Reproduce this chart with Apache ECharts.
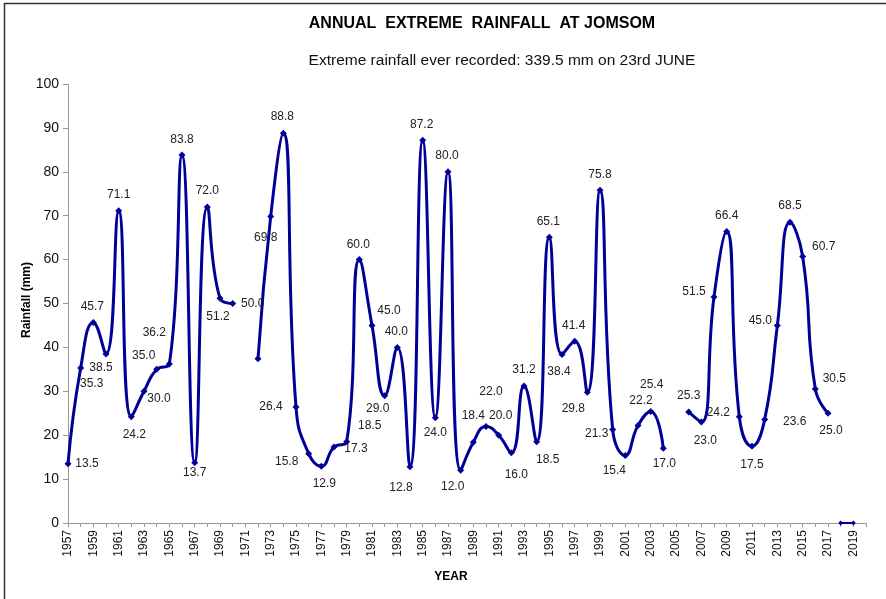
<!DOCTYPE html>
<html>
<head>
<meta charset="utf-8">
<script src="https://cdn.jsdelivr.net/npm/echarts@6/dist/echarts.min.js"></script>
<style>
  html, body { margin: 0; padding: 0; background: #fff; }
  #chart { width: 886px; height: 599px; }
</style>
</head>
<body>
<div id="chart"></div>
<script>
// Year categories along the x axis (one slot per year, 1957-2020)
const years = [
  '1957','1958','1959','1960','1961','1962','1963','1964','1965','1966',
  '1967','1968','1969','1970','1971','1972','1973','1974','1975','1976',
  '1977','1978','1979','1980','1981','1982','1983','1984','1985','1986',
  '1987','1988','1989','1990','1991','1992','1993','1994','1995','1996',
  '1997','1998','1999','2000','2001','2002','2003','2004','2005','2006',
  '2007','2008','2009','2010','2011','2012','2013','2014','2015','2016',
  '2017','2018','2019','2020'
];

// Annual extreme rainfall (mm); null = no record for that year
const rainfall = [
  13.5, 35.3, 45.7, 38.5, 71.1, 24.2, 30.0, 35.0, 36.2, 83.8,
  13.7, 72.0, 51.2, 50.0, null, 37.4, 69.8, 88.8, 26.4, 15.8,
  12.9, 17.3, 18.5, 60.0, 45.0, 29.0, 40.0, 12.8, 87.2, 24.0,
  80.0, 12.0, 18.4, 22.0, 20.0, 16.0, 31.2, 18.5, 65.1, 38.4,
  41.4, 29.8, 75.8, 21.3, 15.4, 22.2, 25.4, 17.0, null, 25.3,
  23.0, 51.5, 66.4, 24.2, 17.5, 23.6, 45.0, 68.5, 60.7, 30.5,
  25.0, null, null, null
];

// Years at the end of the record with zero entries
const zeroYears = ['2018', '2019'];
const zeroValues = [0, 0];

// Years whose value is plotted without a value label
const unlabelledYears = ['1972'];

// Label placement: offset of each value label from its point, in px
const labelOffset = {
  '1957': [19, 0],   '1958': [11, 16],   '1959': [-1, -16],  '1960': [-5, 14],
  '1961': [0, -16],  '1962': [3, 18],    '1963': [15, 7],    '1964': [-13, -14],
  '1965': [-15, -31],'1966': [0, -15],   '1967': [0, 10],    '1968': [0, -16],
  '1969': [-2, 18],  '1970': [20, 0],    '1973': [-5, 21],   '1974': [-1, -16],
  '1975': [-25, 0],  '1976': [-22, 8],   '1977': [3, 17],    '1978': [22, 2],
  '1979': [23, -16], '1980': [-1, -15],  '1981': [17, -15],  '1982': [-7, 13],
  '1983': [-1, -16], '1984': [-9, 21],   '1985': [-1, -16],  '1986': [0, 15],
  '1987': [-1, -16], '1988': [-8, 16],   '1989': [0, -27],   '1990': [5, -35],
  '1991': [2, -20],  '1992': [5, 22],    '1993': [0, -16],   '1994': [11, 18],
  '1995': [-1, -16], '1996': [-3, 17],   '1997': [-1, -16],  '1998': [-14, 17],
  '1999': [0, -16],  '2000': [-16, 4],   '2001': [-11, 15],  '2002': [3, -25],
  '2003': [1, -27],  '2004': [1, 15],    '2006': [0, -16],   '2007': [4, 19],
  '2008': [-20, -5], '2009': [0, -16],   '2010': [-21, -4],  '2011': [0, 19],
  '2012': [30, 2],   '2013': [-17, -5],  '2014': [0, -17],   '2015': [21, -10],
  '2016': [19, -10], '2017': [3, 17]
};

const LINE_BLUE = '#000099';
const TEXT_FONT = 'Liberation Sans, Arial, sans-serif';

const mainData = rainfall.map((v, i) => {
  const y = years[i];
  if (v === null) return null;
  const off = labelOffset[y] || [0, -16];
  return {
    value: v,
    label: { show: unlabelledYears.indexOf(y) < 0, offset: off }
  };
});

const zeroData = years.map(y => {
  const k = zeroYears.indexOf(y);
  return k < 0 ? null : zeroValues[k];
});

const chart = echarts.init(document.getElementById('chart'), null, { renderer: 'canvas' });

chart.setOption({
  backgroundColor: '#ffffff',
  animation: false,
  title: [
    {
      text: 'ANNUAL  EXTREME  RAINFALL  AT JOMSOM',
      left: 477, top: 11, textAlign: 'center',
      textStyle: { fontFamily: TEXT_FONT, fontSize: 16, fontWeight: 'bold', color: '#000' }
    },
    {
      text: 'Extreme rainfall ever recorded: 339.5 mm on 23rd JUNE',
      left: 497, top: 48, textAlign: 'center',
      textStyle: { fontFamily: TEXT_FONT, fontSize: 15.5, fontWeight: 'normal', color: '#111' }
    }
  ],
  grid: { left: 68, right: 20, top: 84, bottom: 76, containLabel: false },
  xAxis: {
    type: 'category',
    data: years,
    boundaryGap: false,
    axisLine: { lineStyle: { color: '#999', width: 1 } },
    axisTick: { show: true, interval: 0, length: 4, lineStyle: { color: '#999' } },
    axisLabel: {
      interval: 1, rotate: 90, margin: 7,
      fontFamily: TEXT_FONT, fontSize: 12, color: '#111'
    },
    splitLine: { show: false }
  },
  yAxis: {
    type: 'value',
    min: 0, max: 100, interval: 10,
    axisLine: { show: true, lineStyle: { color: '#999', width: 1 } },
    axisTick: { show: true, length: 5, lineStyle: { color: '#999' } },
    axisLabel: { margin: 9, fontFamily: TEXT_FONT, fontSize: 14, color: '#111' },
    splitLine: { show: false }
  },
  graphic: [
    { type: 'line', shape: { x1: 4, y1: 3.5, x2: 886, y2: 3.5 }, style: { stroke: '#333', lineWidth: 1.5 } },
    { type: 'line', shape: { x1: 4.5, y1: 3, x2: 4.5, y2: 599 }, style: { stroke: '#333', lineWidth: 1.5 } },
    {
      type: 'text', x: 27, y: 300, rotation: Math.PI / 2,
      style: { text: 'Rainfall (mm)', font: 'bold 12px ' + TEXT_FONT, fill: '#000', align: 'center', verticalAlign: 'middle' }
    },
    {
      type: 'text', x: 451, y: 577,
      style: { text: 'YEAR', font: 'bold 12px ' + TEXT_FONT, fill: '#000', align: 'center', verticalAlign: 'middle' }
    }
  ],
  series: [
    {
      type: 'line',
      data: mainData,
      connectNulls: false,
      smooth: 0.5,
      symbol: 'diamond',
      symbolSize: 7,
      lineStyle: { color: LINE_BLUE, width: 3 },
      itemStyle: { color: LINE_BLUE },
      label: {
        show: true,
        position: 'inside',
        align: 'center',
        verticalAlign: 'middle',
        fontFamily: TEXT_FONT,
        fontSize: 12,
        color: '#222',
        formatter: p => Number(p.value).toFixed(1)
      },
      z: 3
    },
    {
      type: 'line',
      data: zeroData,
      connectNulls: false,
      smooth: 0.5,
      symbol: 'diamond',
      symbolSize: 5,
      lineStyle: { color: LINE_BLUE, width: 2 },
      itemStyle: { color: LINE_BLUE },
      label: { show: false },
      z: 3
    }
  ]
});
</script>
</body>
</html>
